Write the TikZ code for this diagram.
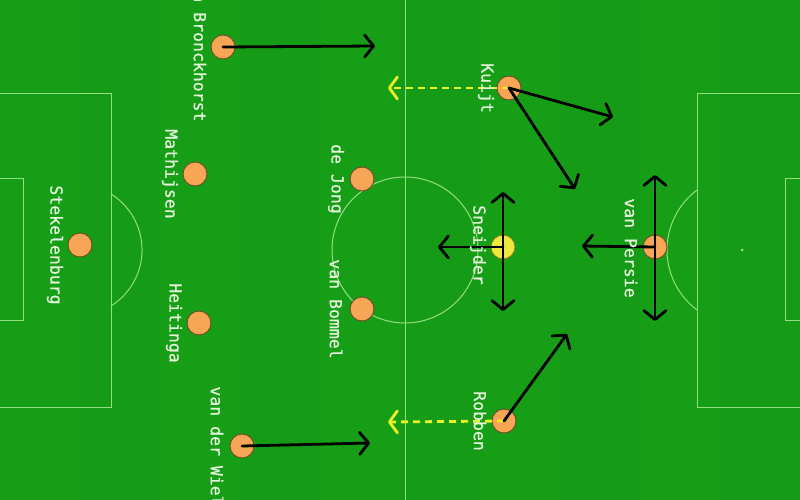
\documentclass[tikz,border=0pt]{standalone}
\usepackage{fontspec}
\newfontfamily\lblfont[FakeBold=0.8]{DejaVu Sans Mono}
\usetikzlibrary{arrows.meta}
\definecolor{pitch}{RGB}{22,158,22}
\definecolor{pitchdark}{RGB}{18,146,18}
\definecolor{pline}{RGB}{150,222,130}
\definecolor{pl}{RGB}{246,166,84}
\definecolor{plyel}{RGB}{240,232,60}
\definecolor{dashyel}{RGB}{232,240,40}
\definecolor{lbl}{RGB}{228,244,218}
\begin{document}
\begin{tikzpicture}[x=1pt,y=-1pt,
 fieldline/.style={draw=pline, line width=1pt},
 player/.style={circle, minimum size=24pt, inner sep=0pt, fill=pl, draw=black!55!pl, line width=0.9pt},
 starplayer/.style={player, fill=plyel, draw=black!45!plyel},
 pname/.style={rotate=-90, text=lbl, font=\lblfont\fontsize{16.5}{17}\selectfont, inner sep=0pt},
 run/.style={draw=black, line width=2.8pt, line cap=round, -{Straight Barb[length=9pt,width=22pt,round]}},
 drift/.style={draw=dashyel, line width=2.8pt, dash pattern=on 7pt off 5pt, -{Straight Barb[length=8pt,width=22pt,round]}}
]
\useasboundingbox (0,0) rectangle (800,500);
\fill[pitch] (0,0) rectangle (800,500);
\foreach \x in {0,160,320,480,640} \fill[pitchdark,opacity=0.2] (\x+80,0) rectangle (\x+160,500);
% field markings
\draw[fieldline] (405,0) -- (405,500);
\draw[fieldline] (405,250) circle[radius=73];
\draw[fieldline] (0,94) -- (111,94) -- (111,407) -- (0,407);
\draw[fieldline] (0,178) -- (23,178) -- (23,320) -- (0,320);
\draw[fieldline] (111,194) arc[start angle=-58, end angle=58, radius=66];
\draw[fieldline] (800,94) -- (697,94) -- (697,407) -- (800,407);
\draw[fieldline] (800,178) -- (785,178) -- (785,320) -- (800,320);
\draw[fieldline] (697,310) arc[start angle=126.87, end angle=233.13, radius=75];
\fill[pline] (742,250) circle[radius=1.5];
% players
\node[player] (stek) at (80,245) {};
\node[player] (bron) at (223,47) {};
\node[player] (math) at (195,174) {};
\node[player] (heit) at (199,323) {};
\node[player] (wiel) at (242,446) {};
\node[player] (dejo) at (362,179) {};
\node[player] (bomm) at (362,309) {};
\node[player] (kuij) at (509,88) {};
\node[starplayer] (snei) at (503,247) {};
\node[player] (pers) at (655,247) {};
\node[player] (robb) at (504,421) {};
% arrow end points
\coordinate (bronE) at (375,46);
\coordinate (wielE) at (370,443);
\coordinate (kuijA) at (613,117);
\coordinate (kuijB) at (575,189);
\coordinate (kuijY) at (388,88);
\coordinate (sneiU) at (503,192);
\coordinate (sneiD) at (503,311);
\coordinate (sneiL) at (438,247);
\coordinate (persU) at (655,175);
\coordinate (persD) at (655,321);
\coordinate (persL) at (582,246);
\coordinate (robbA) at (567,334);
\coordinate (robbY) at (388,422);
% runs
\draw[drift] (kuij.center) -- (kuijY);
\draw[drift] (robb.center) -- (robbY);
\draw[run] (bron.center) -- (bronE);
\draw[run] (wiel.center) -- (wielE);
\draw[run] (kuij.center) -- (kuijA);
\draw[run] (kuij.center) -- (kuijB);
\draw[run] (snei.center) -- (sneiU);
\draw[run] (snei.center) -- (sneiD);
\draw[run] (snei.center) -- (sneiL);
\draw[run] (pers.center) -- (persU);
\draw[run] (pers.center) -- (persD);
\draw[run] (pers.center) -- (persL);
\draw[run] (robb.center) -- (robbA);
% names
\node[pname] (stekN) at (55,245) {Stekelenburg};
\node[pname] (bronN) at (200,47) {van Bronckhorst};
\node[pname] (mathN) at (170,174) {Mathijsen};
\node[pname] (heitN) at (174,323) {Heitinga};
\node[pname] (wielN) at (217,446) {van der Wiel};
\node[pname] (dejoN) at (336,179) {de Jong};
\node[pname] (bommN) at (336,309) {van Bommel};
\node[pname] (kuijN) at (486,88) {Kuijt};
\node[pname] (sneiN) at (478,245) {Sneijder};
\node[pname] (persN) at (631,248) {van Persie};
\node[pname] (robbN) at (480,421) {Robben};
\end{tikzpicture}
\end{document}
